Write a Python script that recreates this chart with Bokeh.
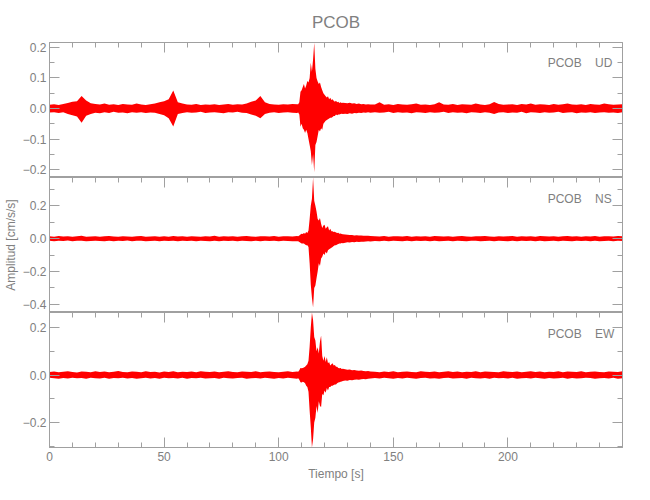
from bokeh.plotting import figure
from bokeh.layouts import column
from bokeh.models import Range1d, LinearAxis, FixedTicker, CustomJSTickFormatter, Label
from bokeh.embed import file_html
from bokeh.resources import INLINE

# ---------------- data (envelope of the traces) ----------------
STATION = "PCOB"
COMPONENTS = ["UD", "NS", "EW"]

# sample times [s]
T_PRE = list(range(0, 110, 2))                 # 0 .. 108
T_EVENT = [108.5 + 0.5 * i for i in range(40)]  # 108.5 .. 128.0
T_CODA = list(range(129, 141))                 # 129 .. 140
T_POST = list(range(142, 251, 2))              # 142 .. 250

# UD
UD_UP_PRE = [0.012, 0.014, 0.011, 0.015, 0.018, 0.022, 0.024, 0.041, 0.026, 0.017,
             0.015, 0.013, 0.016, 0.012, 0.014, 0.011, 0.015, 0.013, 0.012, 0.016,
             0.013, 0.011, 0.014, 0.016, 0.020, 0.024, 0.030, 0.059, 0.020, 0.016,
             0.013, 0.012, 0.015, 0.011, 0.013, 0.012, 0.014, 0.011, 0.013, 0.015,
             0.012, 0.014, 0.013, 0.016, 0.022, 0.026, 0.041, 0.020, 0.015, 0.013,
             0.012, 0.014, 0.013, 0.015, 0.014]
UD_LO_PRE = [-0.013, -0.012, -0.015, -0.012, -0.018, -0.022, -0.026, -0.047, -0.024, -0.018,
             -0.014, -0.016, -0.012, -0.015, -0.011, -0.014, -0.013, -0.016, -0.012, -0.014,
             -0.012, -0.015, -0.013, -0.014, -0.018, -0.022, -0.032, -0.059, -0.018, -0.015,
             -0.012, -0.014, -0.013, -0.011, -0.015, -0.013, -0.012, -0.014, -0.016, -0.012,
             -0.013, -0.011, -0.014, -0.015, -0.020, -0.024, -0.032, -0.018, -0.014, -0.012,
             -0.015, -0.013, -0.012, -0.014, -0.015]
UD_UP_EVENT = [0.014, 0.020, 0.055, 0.060, 0.070, 0.080, 0.065, 0.075, 0.090, 0.085,
               0.100, 0.150, 0.120, 0.160, 0.215, 0.130, 0.100, 0.088, 0.080, 0.085,
               0.070, 0.060, 0.050, 0.045, 0.040, 0.036, 0.040, 0.030, 0.035, 0.028,
               0.030, 0.025, 0.022, 0.025, 0.020, 0.022, 0.018, 0.020, 0.018, 0.019]
UD_LO_EVENT = [-0.013, -0.020, -0.060, -0.050, -0.065, -0.070, -0.080, -0.070, -0.080, -0.100,
               -0.120, -0.140, -0.185, -0.150, -0.209, -0.120, -0.110, -0.090, -0.070, -0.075,
               -0.065, -0.070, -0.050, -0.045, -0.040, -0.038, -0.035, -0.033, -0.030, -0.030,
               -0.028, -0.025, -0.025, -0.020, -0.022, -0.020, -0.020, -0.018, -0.017, -0.018]
UD_UP_CODA = [0.018, 0.017, 0.019, 0.016, 0.017, 0.015, 0.016, 0.014, 0.015, 0.013, 0.014, 0.013]
UD_LO_CODA = [-0.017, -0.018, -0.016, -0.017, -0.015, -0.016, -0.014, -0.015, -0.013, -0.014, -0.012, -0.014]
UD_UP_POST = [0.013, 0.020, 0.012, 0.014, 0.011, 0.015, 0.013, 0.012, 0.014, 0.016,
              0.012, 0.013, 0.011, 0.014, 0.020, 0.013, 0.012, 0.015, 0.011, 0.014,
              0.013, 0.012, 0.016, 0.013, 0.011, 0.014, 0.021, 0.015, 0.012, 0.013,
              0.014, 0.011, 0.015, 0.013, 0.016, 0.012, 0.014, 0.013, 0.011, 0.015,
              0.012, 0.014, 0.016, 0.013, 0.012, 0.014, 0.011, 0.015, 0.013, 0.012,
              0.016, 0.014, 0.012, 0.013, 0.014]
UD_LO_POST = [-0.012, -0.014, -0.013, -0.011, -0.015, -0.012, -0.014, -0.013, -0.016, -0.012,
              -0.013, -0.015, -0.012, -0.014, -0.013, -0.011, -0.015, -0.012, -0.014, -0.013,
              -0.016, -0.012, -0.013, -0.015, -0.012, -0.014, -0.018, -0.013, -0.012, -0.015,
              -0.013, -0.014, -0.011, -0.016, -0.012, -0.013, -0.015, -0.012, -0.014, -0.013,
              -0.011, -0.015, -0.013, -0.012, -0.016, -0.013, -0.014, -0.012, -0.015, -0.013,
              -0.012, -0.014, -0.013, -0.015, -0.012]

# NS
NS_UP_PRE = [0.014, 0.012, 0.016, 0.013, 0.015, 0.011, 0.014, 0.017, 0.012, 0.013,
             0.015, 0.012, 0.014, 0.016, 0.013, 0.011, 0.015, 0.013, 0.012, 0.014,
             0.016, 0.012, 0.013, 0.015, 0.011, 0.014, 0.012, 0.016, 0.013, 0.015,
             0.012, 0.014, 0.013, 0.011, 0.015, 0.013, 0.017, 0.012, 0.014, 0.013,
             0.015, 0.012, 0.014, 0.016, 0.013, 0.012, 0.015, 0.014, 0.013, 0.016,
             0.012, 0.014, 0.015, 0.013, 0.016]
NS_LO_PRE = [-0.013, -0.015, -0.012, -0.014, -0.011, -0.016, -0.013, -0.012, -0.015, -0.014,
             -0.012, -0.014, -0.016, -0.013, -0.015, -0.012, -0.014, -0.011, -0.015, -0.013,
             -0.012, -0.016, -0.014, -0.013, -0.015, -0.012, -0.014, -0.013, -0.016, -0.012,
             -0.014, -0.013, -0.015, -0.012, -0.014, -0.016, -0.013, -0.015, -0.012, -0.014,
             -0.013, -0.015, -0.012, -0.014, -0.016, -0.013, -0.015, -0.012, -0.014, -0.013,
             -0.015, -0.013, -0.014, -0.016, -0.015]
NS_UP_EVENT = [0.015, 0.020, 0.025, 0.030, 0.028, 0.035, 0.030, 0.040, 0.035, 0.050,
               0.120, 0.200, 0.243, 0.372, 0.230, 0.200, 0.165, 0.120, 0.110, 0.126,
               0.090, 0.065, 0.080, 0.085, 0.060, 0.070, 0.075, 0.050, 0.060, 0.045,
               0.045, 0.040, 0.042, 0.038, 0.035, 0.036, 0.030, 0.032, 0.028, 0.027]
NS_LO_EVENT = [-0.015, -0.020, -0.025, -0.030, -0.030, -0.030, -0.035, -0.040, -0.040, -0.050,
               -0.150, -0.280, -0.360, -0.419, -0.300, -0.285, -0.240, -0.200, -0.150, -0.166,
               -0.120, -0.110, -0.090, -0.100, -0.080, -0.090, -0.070, -0.065, -0.060, -0.055,
               -0.050, -0.045, -0.040, -0.040, -0.035, -0.032, -0.030, -0.030, -0.027, -0.028]
NS_UP_CODA = [0.025, 0.024, 0.022, 0.023, 0.020, 0.021, 0.019, 0.020, 0.018, 0.017, 0.018, 0.016]
NS_LO_CODA = [-0.025, -0.022, -0.023, -0.021, -0.022, -0.019, -0.020, -0.018, -0.019, -0.017, -0.016, -0.017]
NS_UP_POST = [0.015, 0.013, 0.016, 0.012, 0.014, 0.015, 0.013, 0.016, 0.012, 0.014,
              0.013, 0.015, 0.012, 0.016, 0.014, 0.013, 0.015, 0.012, 0.014, 0.016,
              0.013, 0.012, 0.015, 0.014, 0.016, 0.013, 0.012, 0.015, 0.013, 0.014,
              0.016, 0.012, 0.014, 0.013, 0.015, 0.012, 0.016, 0.014, 0.013, 0.015,
              0.012, 0.014, 0.016, 0.013, 0.015, 0.012, 0.014, 0.013, 0.016, 0.012,
              0.014, 0.015, 0.013, 0.016, 0.014]
NS_LO_POST = [-0.014, -0.016, -0.012, -0.015, -0.013, -0.014, -0.016, -0.012, -0.015, -0.013,
              -0.014, -0.012, -0.016, -0.013, -0.015, -0.014, -0.012, -0.016, -0.013, -0.014,
              -0.015, -0.013, -0.012, -0.016, -0.014, -0.013, -0.015, -0.012, -0.014, -0.016,
              -0.013, -0.015, -0.012, -0.014, -0.013, -0.016, -0.012, -0.015, -0.014, -0.013,
              -0.016, -0.012, -0.014, -0.015, -0.013, -0.014, -0.012, -0.016, -0.013, -0.015,
              -0.014, -0.012, -0.015, -0.013, -0.014]

# EW
EW_UP_PRE = [0.013, 0.015, 0.012, 0.014, 0.016, 0.013, 0.011, 0.015, 0.014, 0.012,
             0.016, 0.013, 0.015, 0.012, 0.014, 0.017, 0.013, 0.012, 0.015, 0.014,
             0.012, 0.016, 0.013, 0.014, 0.011, 0.015, 0.013, 0.016, 0.012, 0.014,
             0.013, 0.015, 0.012, 0.016, 0.014, 0.013, 0.015, 0.012, 0.014, 0.016,
             0.013, 0.012, 0.015, 0.014, 0.013, 0.016, 0.012, 0.014, 0.015, 0.013,
             0.012, 0.014, 0.016, 0.013, 0.015]
EW_LO_PRE = [-0.012, -0.014, -0.016, -0.013, -0.015, -0.012, -0.014, -0.013, -0.016, -0.012,
             -0.014, -0.015, -0.012, -0.016, -0.013, -0.014, -0.012, -0.015, -0.013, -0.016,
             -0.014, -0.012, -0.015, -0.013, -0.016, -0.012, -0.014, -0.013, -0.015, -0.012,
             -0.016, -0.013, -0.014, -0.012, -0.015, -0.014, -0.013, -0.016, -0.012, -0.014,
             -0.015, -0.013, -0.012, -0.016, -0.014, -0.013, -0.015, -0.012, -0.014, -0.016,
             -0.013, -0.015, -0.012, -0.014, -0.016]
EW_UP_EVENT = [0.014, 0.020, 0.030, 0.028, 0.030, 0.032, 0.035, 0.040, 0.045, 0.060,
               0.120, 0.200, 0.263, 0.230, 0.160, 0.145, 0.100, 0.117, 0.090, 0.140,
               0.166, 0.080, 0.060, 0.080, 0.055, 0.075, 0.050, 0.055, 0.040, 0.045,
               0.050, 0.040, 0.042, 0.035, 0.035, 0.030, 0.028, 0.030, 0.025, 0.026]
EW_LO_EVENT = [-0.014, -0.020, -0.030, -0.032, -0.028, -0.030, -0.035, -0.045, -0.050, -0.070,
               -0.150, -0.220, -0.305, -0.270, -0.200, -0.180, -0.130, -0.160, -0.110, -0.130,
               -0.135, -0.080, -0.085, -0.065, -0.075, -0.055, -0.065, -0.050, -0.050, -0.045,
               -0.045, -0.042, -0.040, -0.040, -0.035, -0.032, -0.030, -0.028, -0.027, -0.025]
EW_UP_CODA = [0.024, 0.022, 0.023, 0.020, 0.021, 0.019, 0.018, 0.019, 0.017, 0.016, 0.017, 0.015]
EW_LO_CODA = [-0.023, -0.024, -0.021, -0.022, -0.020, -0.019, -0.020, -0.018, -0.017, -0.018, -0.016, -0.015]
EW_UP_POST = [0.014, 0.012, 0.015, 0.013, 0.016, 0.012, 0.014, 0.015, 0.013, 0.012,
              0.016, 0.014, 0.013, 0.015, 0.012, 0.014, 0.016, 0.013, 0.015, 0.012,
              0.014, 0.013, 0.016, 0.012, 0.015, 0.014, 0.013, 0.012, 0.016, 0.014,
              0.013, 0.015, 0.012, 0.014, 0.016, 0.013, 0.015, 0.012, 0.014, 0.013,
              0.016, 0.012, 0.015, 0.014, 0.013, 0.016, 0.012, 0.014, 0.015, 0.013,
              0.012, 0.015, 0.014, 0.013, 0.016]
EW_LO_POST = [-0.013, -0.015, -0.012, -0.014, -0.016, -0.013, -0.015, -0.012, -0.014, -0.016,
              -0.013, -0.012, -0.015, -0.014, -0.016, -0.013, -0.012, -0.015, -0.014, -0.013,
              -0.016, -0.012, -0.014, -0.015, -0.013, -0.016, -0.012, -0.014, -0.013, -0.015,
              -0.012, -0.016, -0.014, -0.013, -0.015, -0.012, -0.014, -0.016, -0.013, -0.015,
              -0.014, -0.012, -0.016, -0.013, -0.015, -0.014, -0.012, -0.013, -0.016, -0.014,
              -0.013, -0.015, -0.012, -0.016, -0.014]

# axis limits and ticks
X_LIM = (0, 250)
UD_YLIM = (-0.226, 0.216)
NS_YLIM = (-0.449, 0.372)
EW_YLIM = (-0.305, 0.263)
X_MAJOR = [0, 50, 100, 150, 200]
X_MINOR = list(range(0, 250, 10))
UD_YMAJOR = [-0.2, -0.1, 0.0, 0.1, 0.2]
UD_YMINOR = [-0.2, -0.15, -0.1, -0.05, 0.0, 0.05, 0.1, 0.15, 0.2]
NS_YMAJOR = [-0.4, -0.2, 0.0, 0.2]
NS_YMINOR = [-0.4, -0.3, -0.2, -0.1, 0.0, 0.1, 0.2, 0.3]
EW_YMAJOR = [-0.2, 0.0, 0.2]
EW_YMINOR = [-0.3, -0.2, -0.1, 0.0, 0.1, 0.2]

# ---------------- styling ----------------
AXC = "#a0a0a0"
TXC = "#808080"
FONT = "Liberation Sans"
RED = "#ff0000"
W = 632
LEFT = 46
RIGHT = 10

T_ALL = T_PRE + T_EVENT + T_CODA + T_POST


def style_axis(ax, labels=True):
    ax.axis_line_color = AXC
    ax.major_tick_line_color = AXC
    ax.minor_tick_line_color = AXC
    ax.major_tick_in = 10
    ax.major_tick_out = 0
    ax.minor_tick_in = 5
    ax.minor_tick_out = 0
    ax.major_label_text_color = TXC
    ax.major_label_text_font = FONT
    ax.axis_label_text_color = TXC
    ax.axis_label_text_font = FONT
    ax.axis_label_text_font_style = "normal"
    ax.axis_label_text_font_size = "12px"
    if labels:
        ax.major_label_text_font_size = "12px"
        ax.major_label_standoff = 3
    else:
        ax.major_label_text_font_size = "0px"
        ax.major_label_standoff = 0
        ax.formatter = CustomJSTickFormatter(code="return '';")


def make_panel(comp, up, lo, ylim, ymaj, ymin_t, frame_h, top, bottom,
               title=None, ylabel=None, xlabels=False):
    p = figure(width=W, height=frame_h + top + bottom,
               x_range=Range1d(*X_LIM), y_range=Range1d(*ylim),
               x_axis_type=None, y_axis_type=None,
               output_backend="svg", toolbar_location=None,
               min_border_left=LEFT, min_border_right=RIGHT,
               min_border_top=top, min_border_bottom=bottom)
    p.outline_line_color = AXC
    p.background_fill_color = "white"
    p.border_fill_color = "white"

    p.varea(x=T_ALL, y1=lo, y2=up, fill_color=RED, fill_alpha=1.0)

    yfmt = CustomJSTickFormatter(code="return tick.toFixed(1).replace('-', '\\u2212');")
    yl = LinearAxis(ticker=FixedTicker(ticks=ymaj, minor_ticks=ymin_t), formatter=yfmt)
    style_axis(yl)
    if ylabel:
        yl.axis_label = ylabel
        yl.axis_label_standoff = 2
    p.add_layout(yl, "left")

    yr = LinearAxis(ticker=FixedTicker(ticks=ymaj, minor_ticks=ymin_t))
    style_axis(yr, labels=False)
    p.add_layout(yr, "right")

    xt = LinearAxis(ticker=FixedTicker(ticks=X_MAJOR, minor_ticks=X_MINOR))
    style_axis(xt, labels=False)
    p.add_layout(xt, "above")

    if xlabels:
        xb = LinearAxis(ticker=FixedTicker(ticks=X_MAJOR, minor_ticks=X_MINOR),
                        axis_label="Tiempo [s]")
        style_axis(xb)
        xb.major_label_standoff = 4
        xb.axis_label_standoff = 3
        p.add_layout(xb, "below")

    if title:
        p.title.text = title
        p.title.align = "center"
        p.title.text_font = FONT
        p.title.text_font_size = "17px"
        p.title.text_font_style = "normal"
        p.title.text_color = TXC
        p.title.standoff = 21

    ly = ylim[1] - (ylim[1] - ylim[0]) * 21.0 / frame_h
    p.add_layout(Label(x=232.2, y=ly, text=STATION, text_align="right", text_baseline="middle",
                       text_font=FONT, text_font_size="12px", text_color=TXC))
    p.add_layout(Label(x=238.0, y=ly, text=comp, text_align="left", text_baseline="middle",
                       text_font=FONT, text_font_size="12px", text_color=TXC))
    return p


p1 = make_panel(COMPONENTS[0],
                UD_UP_PRE + UD_UP_EVENT + UD_UP_CODA + UD_UP_POST,
                UD_LO_PRE + UD_LO_EVENT + UD_LO_CODA + UD_LO_POST,
                UD_YLIM, UD_YMAJOR, UD_YMINOR, 137, 40, 0, title=STATION)
p2 = make_panel(COMPONENTS[1],
                NS_UP_PRE + NS_UP_EVENT + NS_UP_CODA + NS_UP_POST,
                NS_LO_PRE + NS_LO_EVENT + NS_LO_CODA + NS_LO_POST,
                NS_YLIM, NS_YMAJOR, NS_YMINOR, 135, 0, 0, ylabel="Amplitud [cm/s/s]")
p3 = make_panel(COMPONENTS[2],
                EW_UP_PRE + EW_UP_EVENT + EW_UP_CODA + EW_UP_POST,
                EW_LO_PRE + EW_LO_EVENT + EW_LO_CODA + EW_LO_POST,
                EW_YLIM, EW_YMAJOR, EW_YMINOR, 135, 0, 40, xlabels=True)

layout = column(p1, p2, p3, spacing=0)
open("out.html", "w").write(file_html(layout, INLINE))
